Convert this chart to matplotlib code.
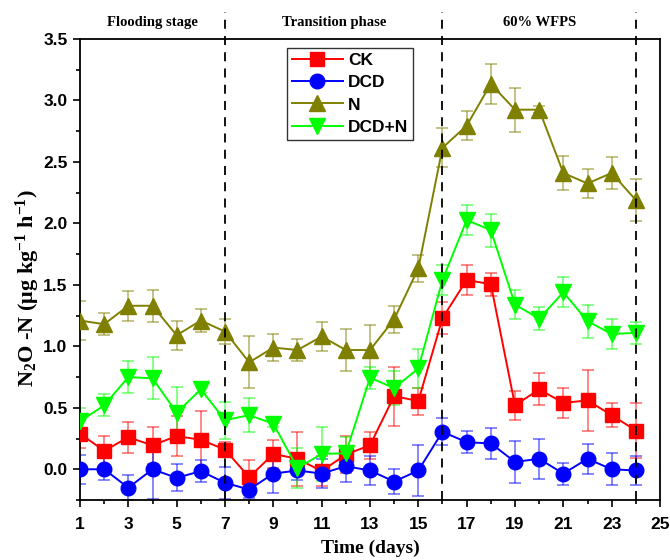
import matplotlib
matplotlib.use("Agg")
import matplotlib.pyplot as plt
from matplotlib.ticker import MultipleLocator

plt.rcParams['mathtext.fontset'] = 'custom'
plt.rcParams['mathtext.rm'] = 'Liberation Serif:bold'
plt.rcParams['mathtext.it'] = 'Liberation Serif:bold'
plt.rcParams['mathtext.bf'] = 'Liberation Serif:bold'
plt.rcParams['mathtext.default'] = 'rm'

days = list(range(1, 25))
ck = [0.29, 0.15, 0.26, 0.195, 0.27, 0.24, 0.16, -0.065, 0.125, 0.085, -0.015, 0.12,
      0.195, 0.595, 0.555, 1.23, 1.54, 1.505, 0.52, 0.65, 0.54, 0.56, 0.44, 0.315]
ck_err = [0.12, 0.12, 0.125, 0.15, 0.16, 0.23, 0.06, 0.14, 0.115, 0.22, 0.12, 0.15,
          0.11, 0.24, 0.11, 0.13, 0.12, 0.095, 0.12, 0.13, 0.12, 0.245, 0.1, 0.22]
dcd = [0.0, 0.0, -0.15, 0.0, -0.07, -0.015, -0.11, -0.165, -0.035, -0.01, -0.035, 0.025,
       -0.01, -0.1, -0.01, 0.305, 0.22, 0.21, 0.06, 0.085, -0.035, 0.085, 0.0, -0.01]
dcd_err = [0.12, 0.09, 0.1, 0.24, 0.11, 0.09, 0.13, 0.07, 0.16, 0.08, 0.12, 0.13,
           0.12, 0.1, 0.21, 0.11, 0.09, 0.125, 0.17, 0.165, 0.09, 0.12, 0.13, 0.12]
n = [1.21, 1.18, 1.33, 1.33, 1.09, 1.21, 1.12, 0.87, 0.99, 0.97, 1.08, 0.97,
     0.97, 1.22, 1.635, 2.615, 2.795, 3.135, 2.925, 2.925, 2.41, 2.325, 2.41, 2.19]
n_err = [0.16, 0.09, 0.12, 0.13, 0.12, 0.09, 0.1, 0.21, 0.11, 0.09, 0.12, 0.17,
         0.2, 0.11, 0.11, 0.16, 0.12, 0.16, 0.18, 0.03, 0.14, 0.12, 0.13, 0.17]
dcdn = [0.39, 0.52, 0.75, 0.74, 0.46, 0.65, 0.40, 0.44, 0.37, 0.01, 0.125, 0.13,
        0.745, 0.66, 0.82, 1.54, 2.027, 1.945, 1.34, 1.225, 1.44, 1.205, 1.10, 1.11]
dcdn_err = [0.11, 0.09, 0.13, 0.17, 0.21, 0.03, 0.15, 0.14, 0.03, 0.16, 0.22, 0.13,
            0.09, 0.14, 0.16, 0.12, 0.12, 0.135, 0.12, 0.095, 0.12, 0.135, 0.12, 0.09]

series_names = ['CK', 'DCD', 'N', 'DCD+N']
stage_names = ['Flooding stage', 'Transition phase', '60% WFPS']
stage_bounds = [1, 7, 16, 24]

fig = plt.figure(figsize=(6.7, 5.6), dpi=100)
ax = fig.add_axes([80/670, 1-500/560, 580/670, 461/560])

styles = [
    (ck, ck_err, '#FF0000', 's', 9.5),
    (dcd, dcd_err, '#0000FF', 'o', 10.5),
    (n, n_err, '#808000', '^', 11),
    (dcdn, dcdn_err, '#00FF00', 'v', 11),
]
for name, (vals, errs, col, mk, ms) in zip(series_names, styles):
    ax.errorbar(days, vals, yerr=errs, fmt='none', ecolor=col, alpha=0.55,
                elinewidth=1.2, capsize=4, capthick=1.2, zorder=2)
    ax.plot(days, vals, color=col, marker=mk, markersize=ms, lw=1.4,
            label=name, zorder=3)

ax.set_xlim(1, 25)
ax.set_ylim(-0.25, 3.5)
ax.set_xticks(range(1, 26, 2))
ax.xaxis.set_minor_locator(MultipleLocator(1))
ax.yaxis.set_major_locator(MultipleLocator(0.5))
ax.yaxis.set_minor_locator(MultipleLocator(0.25))
ax.tick_params(axis='both', which='major', direction='out', length=5, width=1.2,
               labelsize=12.5)
ax.tick_params(axis='x', which='major', pad=7)
ax.tick_params(axis='y', which='major', pad=4)
ax.tick_params(axis='both', which='minor', direction='out', length=3, width=1.2)
for lab in ax.get_xticklabels() + ax.get_yticklabels():
    lab.set_fontfamily('Liberation Sans')
    lab.set_fontweight('bold')
ax.yaxis.set_major_formatter(matplotlib.ticker.FormatStrFormatter('%.1f'))
for sp in ax.spines.values():
    sp.set_linewidth(1.3)

ax.set_xlabel('Time (days)', fontfamily='Liberation Serif', fontweight='bold',
              fontsize=14, labelpad=6)
ax.set_ylabel('N$_2$O -N (μg kg$^{-1}$ h$^{-1}$)', fontfamily='Liberation Serif',
              fontweight='bold', fontsize=16)
ax.yaxis.set_label_coords(-0.066, 0.46)

for xb in stage_bounds[1:]:
    ax.axvline(xb, ymin=0, ymax=1.059, color='black', ls=(0, (5, 4)), lw=1.3,
               clip_on=False, zorder=5)

for i, name in enumerate(stage_names):
    xc = (stage_bounds[i] + stage_bounds[i+1]) / 2
    ax.text(xc, 1.036, name, transform=ax.get_xaxis_transform(),
            ha='center', va='center', fontfamily='Liberation Serif',
            fontweight='bold', fontsize=10.5)

leg = ax.legend(loc='upper left', bbox_to_anchor=((287-80)/580, 1-(48-39)/461),
                prop={'family': 'Liberation Sans', 'weight': 'bold', 'size': 12.5},
                handlelength=2.9, handletextpad=0.3, labelspacing=0.4,
                borderpad=0.3, borderaxespad=0, fancybox=False, framealpha=1,
                edgecolor='#333333')
leg.get_frame().set_linewidth(1.0)

fig.savefig('out.png', dpi=100)
